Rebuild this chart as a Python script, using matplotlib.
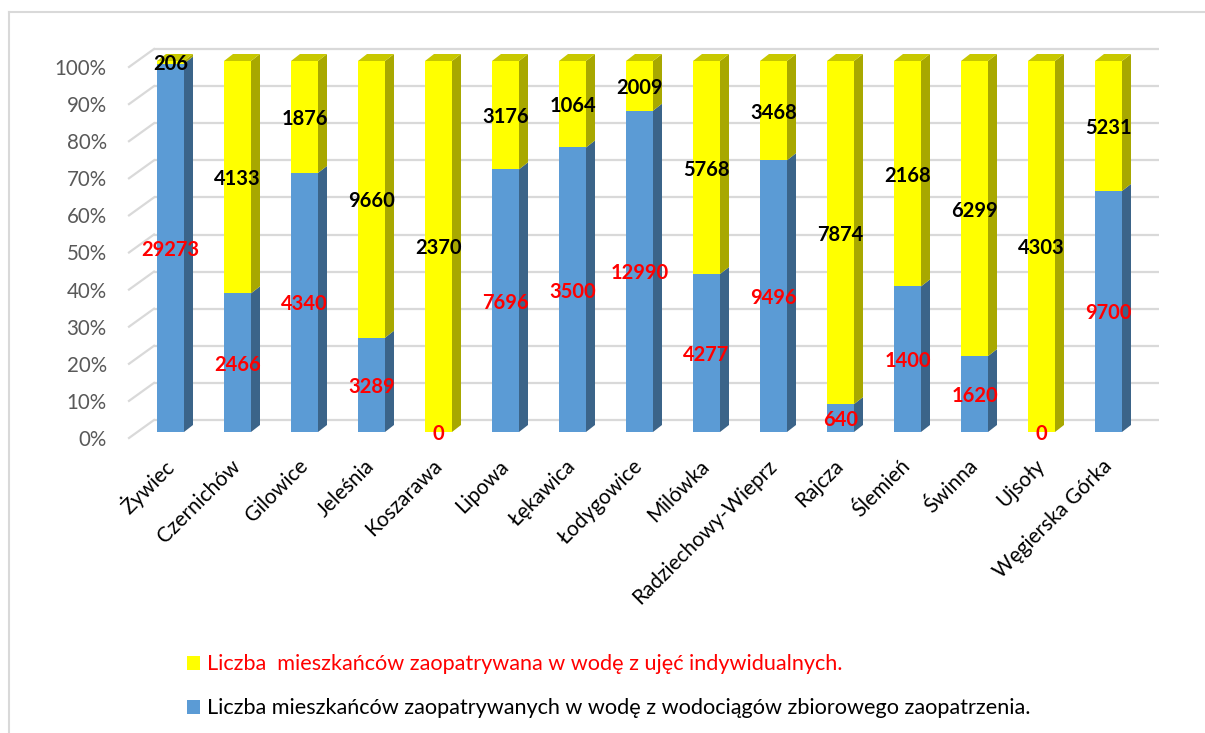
import numpy as np
import matplotlib
matplotlib.use("Agg")
import matplotlib.pyplot as plt
from matplotlib.patches import Polygon, Patch
from matplotlib.lines import Line2D

plt.rcParams['font.family'] = ['Lato', 'DejaVu Sans']

gminy = ['Żywiec', 'Czernichów', 'Gilowice', 'Jeleśnia', 'Koszarawa', 'Lipowa',
         'Łękawica', 'Łodygowice', 'Milówka', 'Radziechowy-Wieprz', 'Rajcza',
         'Ślemień', 'Świnna', 'Ujsoły', 'Węgierska Górka']
wodociagi = [29273, 2466, 4340, 3289, 0, 7696, 3500, 12990, 4277, 9496, 640,
             1400, 1620, 0, 9700]
indywidualne = [206, 4133, 1876, 9660, 2370, 3176, 1064, 2009, 5768, 3468, 7874,
                2168, 6299, 4303, 5231]
y_ticks = [0, 0.1, 0.2, 0.3, 0.4, 0.5, 0.6, 0.7, 0.8, 0.9, 1.0]
y_labels = ['0%', '10%', '20%', '30%', '40%', '50%', '60%', '70%', '80%', '90%', '100%']

leg_yellow = 'Liczba  mieszkańców zaopatrywana w wodę z ujęć indywidualnych.'
leg_blue = 'Liczba mieszkańców zaopatrywanych w wodę z wodociągów zbiorowego zaopatrzenia.'

W, H = 1205, 733
fig = plt.figure(figsize=(W / 100, H / 100), dpi=100)
# axes = front plane of the 3d box, in pixels: x 129..1134, y 438 (0%)..67 (100%)
ax = fig.add_axes([129 / W, (H - 438) / H, 1005 / W, 371 / H])
n = len(gminy)
ax.set_xlim(-0.5, n - 0.5)
ax.set_ylim(0, 1)

px_x = n / 1005
px_y = 1 / 371
fx, fy = 8 * px_x, 6 * px_y      # bar front face offset from front plane
dx, dy = 9 * px_x, 7 * px_y      # bar depth
bx, by = 25 * px_x, 18 * px_y    # back wall offset
grid_c = '#d9d9d9'

# back wall grid + left floor diagonals
for t in y_ticks:
    ax.plot([-0.5 + bx, n - 0.5 + bx], [t + by, t + by], color=grid_c, lw=1.6,
            clip_on=False, zorder=1, solid_capstyle='butt')
    ax.plot([-0.5, -0.5 + bx], [t, t + by], color=grid_c, lw=1.6,
            clip_on=False, zorder=1)

blue = np.array(wodociagi, dtype=float)
yellow = np.array(indywidualne, dtype=float)
total = blue + yellow
bf = blue / total
yf = yellow / total

x = np.arange(n)
bw = 27 * px_x
b1 = ax.bar(x + fx, bf, bw, bottom=fy, color='#5b9bd5', lw=0, zorder=3, clip_on=False)
b2 = ax.bar(x + fx, yf, bw, bottom=fy + bf, color='#ffff00', lw=0, zorder=3, clip_on=False)

for bars, sc in ((b1, '#3b6489'), (b2, '#a8a800')):
    for p in bars.patches:
        x1 = p.get_x() + p.get_width()
        y0 = p.get_y()
        y1 = y0 + p.get_height()
        if y1 - y0 <= 0:
            continue
        ax.add_patch(Polygon([(x1, y0), (x1 + dx, y0 + dy), (x1 + dx, y1 + dy), (x1, y1)],
                             closed=True, facecolor=sc, lw=0, zorder=2.9, clip_on=False))
# top faces
for i in range(n):
    p = b2.patches[i] if yf[i] > 0 else b1.patches[i]
    tc = '#c8c800' if yf[i] > 0 else '#4a7fb0'
    x0 = p.get_x()
    x1 = x0 + p.get_width()
    yt = p.get_y() + p.get_height()
    ax.add_patch(Polygon([(x0, yt), (x1, yt), (x1 + dx, yt + dy), (x0 + dx, yt + dy)],
                         closed=True, facecolor=tc, lw=0, zorder=2.9, clip_on=False))

# value labels in the middle of each segment
for bars, vals, col in ((b1, wodociagi, '#ff0000'), (b2, indywidualne, 'black')):
    for p, v in zip(bars.patches, vals):
        ax.text(p.get_x() + p.get_width() / 2, p.get_y() + p.get_height() / 2, str(v),
                ha='center', va='center_baseline', color=col, fontweight='bold',
                fontsize=14.5, zorder=5, clip_on=False)

ax.set_yticks(y_ticks)
ax.set_yticklabels(y_labels, fontsize=14.8, color='#595959')
ax.set_xticks(x + fx)
ax.set_xticklabels(gminy, fontsize=15, color='black', rotation=45, ha='right',
                   va='center', rotation_mode='anchor')
ax.tick_params(axis='y', length=0, pad=16)
ax.tick_params(axis='x', length=0, pad=18)
for s in ax.spines.values():
    s.set_visible(False)
ax.patch.set_visible(False)

# chart frame (left and top edges visible)
fig.add_artist(Line2D([9 / W, 9 / W], [0, 1 - 12 / H], color=grid_c, lw=1.5))
fig.add_artist(Line2D([9 / W, 1], [1 - 12 / H, 1 - 12 / H], color=grid_c, lw=1.5))

handles = [Patch(facecolor='#ffff00', lw=0), Patch(facecolor='#5b9bd5', lw=0)]
leg = fig.legend(handles, [leg_yellow, leg_blue], loc='upper left',
                 bbox_to_anchor=(167 / W, 1 - 635 / H), frameon=False,
                 fontsize=15.6, handlelength=0.6, handleheight=0.6,
                 handletextpad=0.35, labelspacing=1.1)
leg.get_texts()[0].set_color('#ff0000')
leg.get_texts()[1].set_color('black')

fig.savefig('out.png', dpi=100)
